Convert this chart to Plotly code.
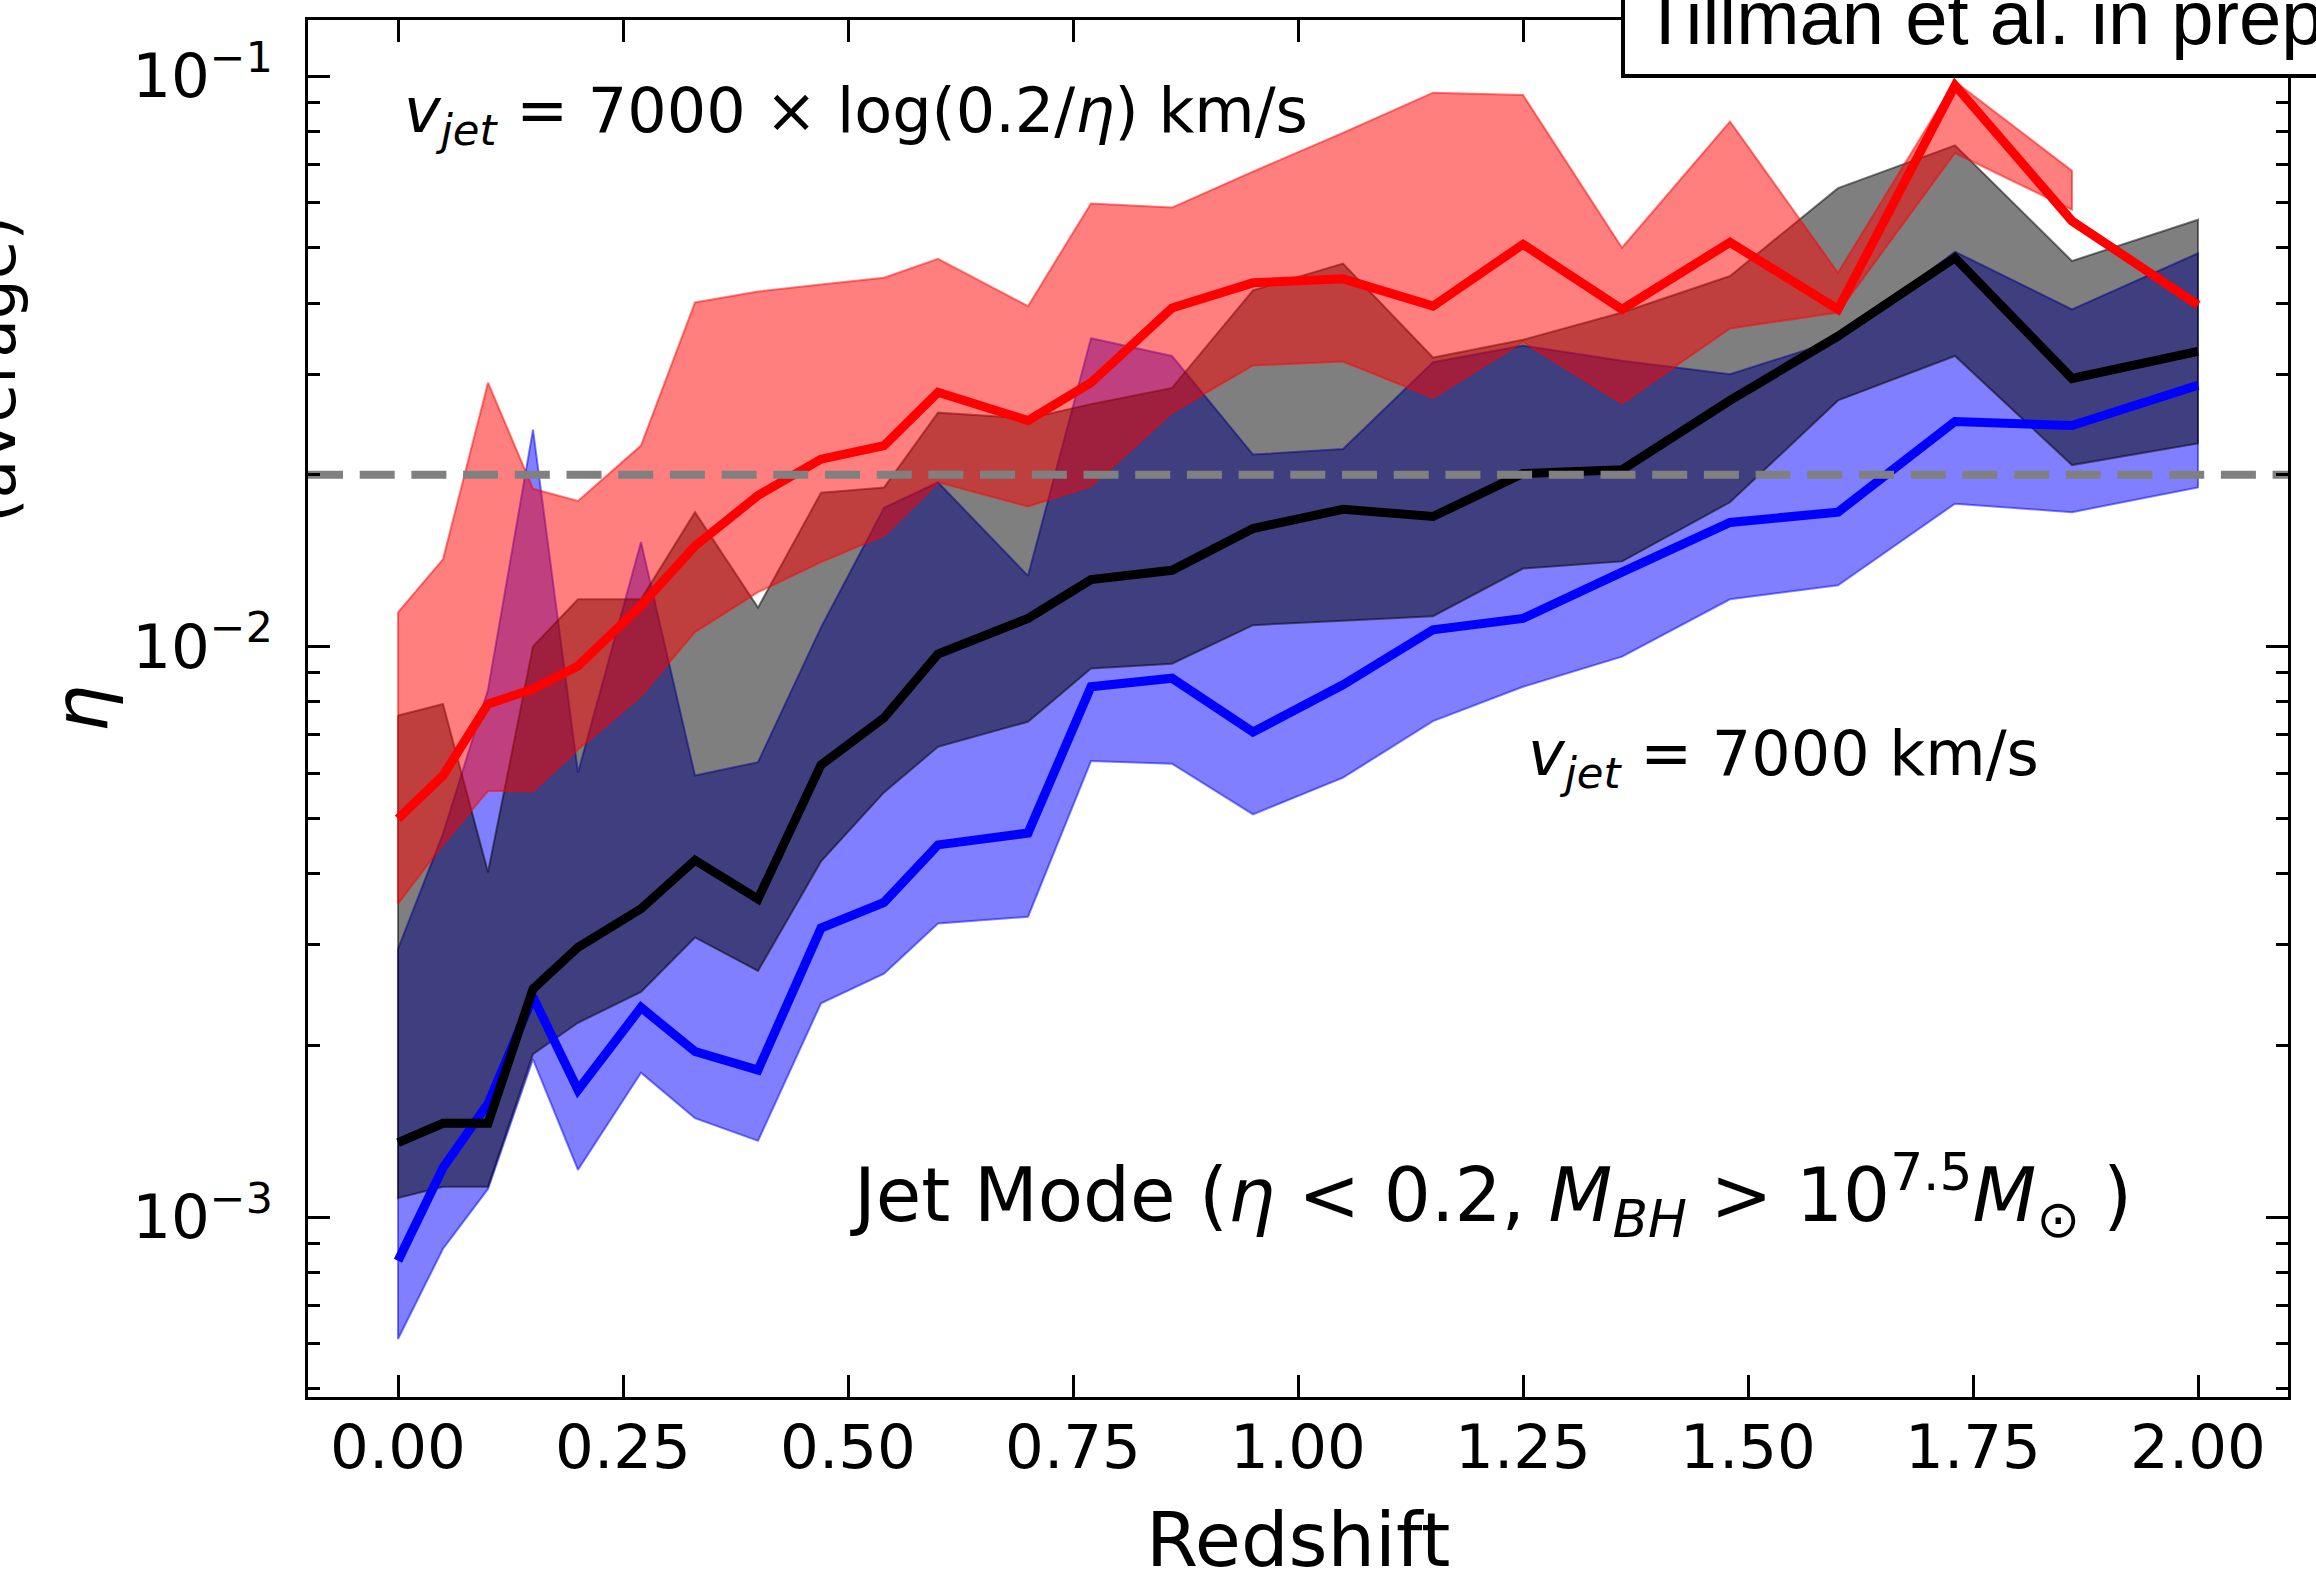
import plotly.graph_objects as go

# ---------------- data ----------------
REDSHIFT = [0.0, 0.05, 0.1, 0.15, 0.2, 0.27, 0.33, 0.4, 0.47, 0.54, 0.6, 0.7,
            0.77, 0.86, 0.95, 1.05, 1.15, 1.25, 1.36, 1.48, 1.6, 1.73, 1.86, 2.0]

# black: median and band
BLACK_MED = [0.00135, 0.00146, 0.00146, 0.00251, 0.00297, 0.00347, 0.00422, 0.00361,
             0.0062, 0.0075, 0.0097, 0.0112, 0.0131, 0.0136, 0.0161, 0.0174,
             0.0169, 0.0201, 0.0204, 0.0270, 0.0350, 0.0480, 0.0295, 0.0329]
BLACK_LO = [0.00108, 0.00113, 0.00113, 0.00193, 0.00219, 0.00248, 0.00309, 0.00270,
            0.0042, 0.00555, 0.00667, 0.00738, 0.00915, 0.00933, 0.0109, 0.0111,
            0.0113, 0.0137, 0.0141, 0.0179, 0.0270, 0.0323, 0.0208, 0.0227]
BLACK_HI = [0.00757, 0.00793, 0.00402, 0.0100, 0.0121, 0.0121, 0.0172, 0.0117,
            0.0186, 0.0190, 0.0257, 0.0251, 0.0266, 0.0284, 0.0421, 0.0469,
            0.0321, 0.0345, 0.0385, 0.0446, 0.0636, 0.0756, 0.0474, 0.0560]

# blue: median and band
BLUE_MED = [0.000838, 0.00122, 0.00158, 0.00243, 0.00167, 0.00233, 0.00195, 0.00181,
            0.00321, 0.00356, 0.00449, 0.00471, 0.00850, 0.00880, 0.00708, 0.00857,
            0.0107, 0.0112, 0.0135, 0.0165, 0.0172, 0.0248, 0.0244, 0.0287]
BLUE_LO = [0.000611, 0.00088, 0.00112, 0.00189, 0.00121, 0.00179, 0.00149, 0.00136,
           0.00237, 0.00267, 0.00327, 0.00336, 0.00630, 0.00623, 0.00508, 0.00589,
           0.00740, 0.0085, 0.0096, 0.0121, 0.0128, 0.0178, 0.0172, 0.0190]
BLUE_HI = [0.00295, 0.0047, 0.0084, 0.0240, 0.00601, 0.01524, 0.00594, 0.00627,
           0.0108, 0.0175, 0.0194, 0.0133, 0.0347, 0.0323, 0.0217, 0.0222,
           0.0315, 0.0337, 0.0317, 0.0300, 0.0345, 0.0492, 0.0390, 0.0489]

# red: median and band (band has no value at the last redshift)
RED_MED = [0.00499, 0.00594, 0.00793, 0.00842, 0.00924, 0.0118, 0.0150, 0.0184,
           0.0213, 0.0225, 0.0279, 0.0249, 0.0290, 0.0392, 0.0434, 0.0441,
           0.0395, 0.0507, 0.0390, 0.0511, 0.0390, 0.0963, 0.0557, 0.0397]
RED_LO = [0.00354, 0.0045, 0.00558, 0.00558, 0.00660, 0.0082, 0.0106, 0.01245,
          0.01406, 0.01564, 0.0194, 0.0176, 0.0191, 0.0257, 0.0311, 0.0316,
          0.0273, 0.0342, 0.0267, 0.0361, 0.0385, 0.0733, 0.0583, None]
RED_HI = [0.01148, 0.01422, 0.0290, 0.0189, 0.0180, 0.0225, 0.0401, 0.0419,
          0.0431, 0.0443, 0.0478, 0.0395, 0.0598, 0.0588, 0.0680, 0.0795,
          0.0935, 0.0926, 0.0500, 0.0832, 0.0452, 0.0978, 0.0682, None]

ETA_THRESHOLD = 0.02
X_RANGE = [-0.1, 2.1]
Y_RANGE_LOG = [-3.3155, -0.9018]

X_TICKS = [0.0, 0.25, 0.5, 0.75, 1.0, 1.25, 1.5, 1.75, 2.0]
X_TICK_LABELS = ["0.00", "0.25", "0.50", "0.75", "1.00", "1.25", "1.50", "1.75", "2.00"]
Y_TICKS = [1e-3, 1e-2, 1e-1]
Y_TICK_LABELS = ["10<sup>\u22123</sup>", "10<sup>\u22122</sup>", "10<sup>\u22121</sup>"]
Y_MINOR = ([m * 1e-4 for m in range(5, 10)] + [m * 1e-3 for m in range(2, 10)]
           + [m * 1e-2 for m in range(2, 10)])

FONT = "DejaVu Sans"


def band(x, lo, hi):
    pts = [(a, l, h) for a, l, h in zip(x, lo, hi) if l is not None and h is not None]
    xs = [p[0] for p in pts]
    his = [p[2] for p in pts]
    los = [p[1] for p in pts]
    px = xs + xs[::-1] + [xs[0]]
    py = his + los[::-1] + [his[0]]
    return px, py


fig = go.Figure()

# bands (blue first, then black, then red on top)
for lo, hi, rgb in [(BLUE_LO, BLUE_HI, "0,0,255"),
                    (BLACK_LO, BLACK_HI, "0,0,0"),
                    (RED_LO, RED_HI, "255,0,0")]:
    px, py = band(REDSHIFT, lo, hi)
    fig.add_trace(go.Scatter(x=px, y=py, mode="lines", fill="toself",
                             fillcolor=f"rgba({rgb},0.5)",
                             line=dict(color=f"rgba({rgb},0.5)", width=2),
                             hoverinfo="skip", showlegend=False))

# median lines
for med, col in [(BLUE_MED, "#0000ff"), (BLACK_MED, "#000000"), (RED_MED, "#ff0000")]:
    fig.add_trace(go.Scatter(x=REDSHIFT, y=med, mode="lines",
                             line=dict(color=col, width=9),
                             showlegend=False))

# dashed threshold line
fig.add_trace(go.Scatter(x=X_RANGE, y=[ETA_THRESHOLD, ETA_THRESHOLD], mode="lines",
                         line=dict(color="#808080", width=8, dash="35px,16.7px"),
                         showlegend=False, hoverinfo="skip"))

axis_common = dict(showgrid=False, zeroline=False, showline=True, linecolor="black",
                   linewidth=3, mirror="ticks", ticks="inside", tickcolor="black",
                   tickwidth=3, ticklen=22,
                   tickfont=dict(family=FONT, size=61, color="black"))

fig.update_layout(
    width=2316, height=1579,
    margin=dict(l=308, r=28, t=20, b=182),
    paper_bgcolor="white", plot_bgcolor="white",
    font=dict(family=FONT, color="black"),
    showlegend=False,
    xaxis=dict(range=X_RANGE, tickmode="array", tickvals=X_TICKS, ticktext=X_TICK_LABELS,
               ticklabelstandoff=-5, **axis_common),
    yaxis=dict(type="log", range=Y_RANGE_LOG, tickmode="array", tickvals=Y_TICKS,
               ticktext=Y_TICK_LABELS, ticklabelstandoff=20,
               minor=dict(tickmode="array", tickvals=Y_MINOR, ticks="inside", ticklen=12,
                          tickwidth=2.5, tickcolor="black", showgrid=False),
               **axis_common),
)

W = 1980.0
H = 1377.0
L = 308.0
T = 20.0


def px2paper_x(p):
    return (p - L) / W


def px2paper_y(p):
    return (T + H - p) / H


annotations = [
    # axis titles
    dict(text="Redshift", x=0.5, y=px2paper_y(1540), xanchor="center", yanchor="middle",
         font=dict(size=75)),
    dict(text="<i>\u03b7</i>", x=px2paper_x(80), y=0.5, xanchor="center", yanchor="middle",
         textangle=-90, font=dict(size=75)),
    # clipped label from neighbouring panel
    dict(text="(average)", x=px2paper_x(-6), y=px2paper_y(370), xanchor="center",
         yanchor="middle", textangle=-90, font=dict(size=63)),
    # in-plot labels
    dict(text="<i>v</i><sub><i>jet</i></sub> = 7000 \u00d7 log(0.2/<i>\u03b7</i>) km/s",
         x=px2paper_x(402), y=px2paper_y(114), xanchor="left", yanchor="middle",
         font=dict(size=62)),
    dict(text="<i>v</i><sub><i>jet</i></sub> = 7000 km/s",
         x=px2paper_x(1526), y=px2paper_y(757), xanchor="left", yanchor="middle",
         font=dict(size=62)),
    dict(text="Jet Mode (<i>\u03b7</i> &lt; 0.2, <i>M</i><sub><i>BH</i></sub> &gt; "
              "10<sup>7.5</sup><i>M</i><sub>\u2299</sub> )",
         x=px2paper_x(848), y=px2paper_y(1195), xanchor="left", yanchor="middle",
         font=dict(size=74)),
    # credit box text
    dict(text="Tillman et al. in prep", x=px2paper_x(1640), y=px2paper_y(17),
         xanchor="left", yanchor="middle",
         font=dict(family="Liberation Sans", size=76, color="black")),
]
for a in annotations:
    a.setdefault("xref", "paper")
    a.setdefault("yref", "paper")
    a.setdefault("showarrow", False)
    fig.add_annotation(**a)

# credit box
fig.add_shape(type="rect", xref="paper", yref="paper",
              x0=px2paper_x(1623), x1=px2paper_x(2400),
              y0=px2paper_y(76), y1=px2paper_y(-60),
              line=dict(color="black", width=4), fillcolor="white", layer="above")

fig.write_html("out.html", config={"displayModeBar": False},
               post_script="document.body.style.margin='0';document.body.style.overflow='hidden';")
